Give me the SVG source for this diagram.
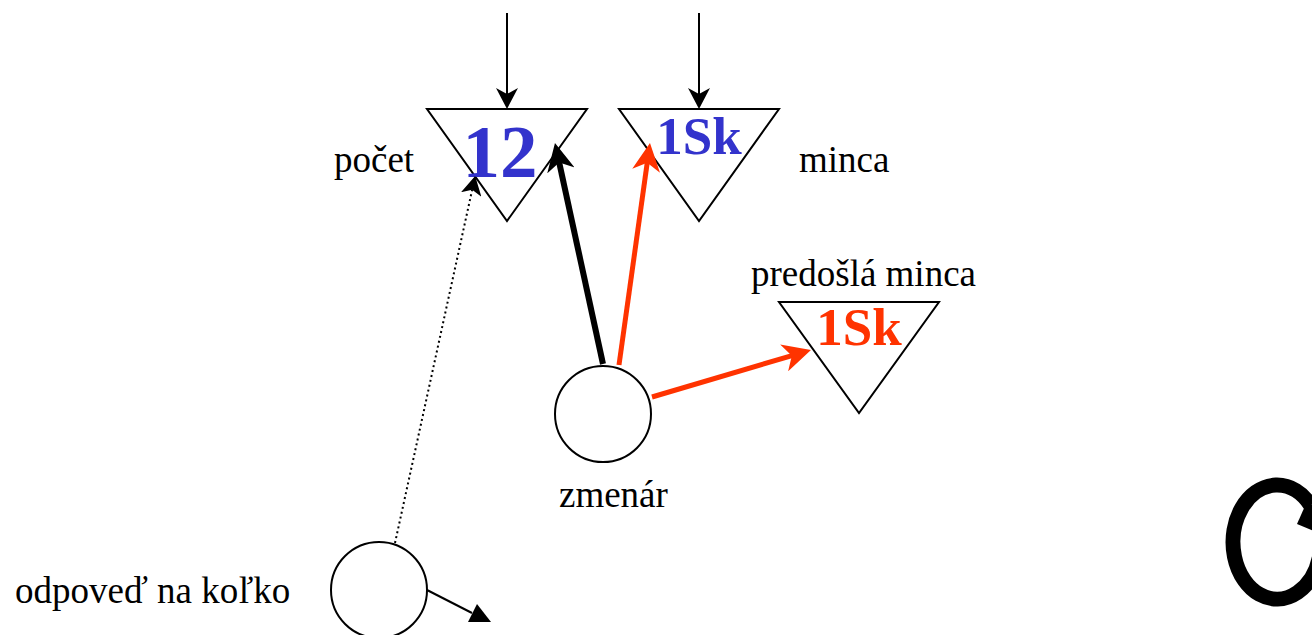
<svg xmlns="http://www.w3.org/2000/svg" width="1312" height="635" viewBox="0 0 1312 635">
<style>
.tri{fill:#fff;stroke:#000;stroke-width:2}
.circ{fill:#fff;stroke:#000;stroke-width:2}
.lbl{font-family:"Liberation Serif","Times New Roman",serif;font-size:37px;fill:#000}
.val{font-family:"Liberation Serif","Times New Roman",serif;font-weight:bold;text-anchor:middle}
.blue{fill:#3333CC}
.red{fill:#FF3300}
.thin{stroke:#000;stroke-width:2;fill:none}
.thick{stroke:#000;stroke-width:6;fill:none}
.redl{stroke:#FF3300;stroke-width:5;fill:none}
.dot{stroke:#000;stroke-width:2;stroke-dasharray:2 3;fill:none}
</style>
<defs>
<marker id="hThin" markerUnits="userSpaceOnUse" viewBox="0 0 21 22" refX="16" refY="11" markerWidth="21" markerHeight="22" orient="auto">
<path d="M0,0 L21,11 L0,22 L6,11 Z" fill="#000"/>
</marker>
<marker id="hBlack" markerUnits="userSpaceOnUse" viewBox="0 0 28 28" refX="18" refY="14" markerWidth="28" markerHeight="28" orient="auto">
<path d="M0,0 L28,14 L0,28 L8,14 Z" fill="#000"/>
</marker>
<marker id="hRed" markerUnits="userSpaceOnUse" viewBox="0 0 28 28" refX="18" refY="14" markerWidth="28" markerHeight="28" orient="auto">
<path d="M0,0 L28,14 L0,28 L8,14 Z" fill="#FF3300"/>
</marker>
<marker id="hDot" markerUnits="userSpaceOnUse" viewBox="0 0 19 21" refX="14" refY="10.5" markerWidth="19" markerHeight="21" orient="auto">
<path d="M0,0 L19,10.5 L0,21 L5,10.5 Z" fill="#000"/>
</marker>
</defs>

<g id="node-pocet">
<polygon class="tri" points="427,109 587,109 507,221"/>
<text class="val blue" x="500" y="177" font-size="75">12</text>
<text class="lbl" x="334" y="172">počet</text>
</g>

<g id="node-minca">
<polygon class="tri" points="619,109 779,109 699,221"/>
<text class="val blue" x="699" y="154" font-size="53">1Sk</text>
<text class="lbl" x="799" y="172">minca</text>
</g>

<g id="node-predosla">
<polygon class="tri" points="779,302 939,302 859,413"/>
<text class="val red" x="859" y="345" font-size="53">1Sk</text>
<text class="lbl" x="751" y="286">predošlá minca</text>
</g>

<g id="node-zmenar">
<circle class="circ" cx="603" cy="414" r="48"/>
<text class="lbl" x="559" y="507">zmenár</text>
</g>

<g id="node-odpoved">
<circle class="circ" cx="379" cy="590" r="48"/>
<text class="lbl" x="15" y="603">odpoveď na koľko</text>
</g>

<g id="connectors">
<line class="thin" x1="507" y1="13" x2="507" y2="104" marker-end="url(#hThin)"/>
<line class="thin" x1="699" y1="13" x2="699" y2="104" marker-end="url(#hThin)"/>
<line class="thick" x1="603" y1="364" x2="557.1" y2="152.8" marker-end="url(#hBlack)"/>
<line class="redl" x1="619" y1="365" x2="648.6" y2="152.9" marker-end="url(#hRed)"/>
<line class="redl" x1="652" y1="397" x2="801.4" y2="352.8" marker-end="url(#hRed)"/>
<line class="dot" x1="395" y1="543" x2="474.1" y2="180.9" marker-end="url(#hDot)"/>
<line class="thin" x1="427" y1="590" x2="472" y2="613"/>
<polygon points="477,604 468,622 491,622" fill="#000"/>
</g>

<g id="cycle-symbol">
<path d="M1320.3,552.4 A44,57 0 1 1 1310.7,505.4" fill="none" stroke="#000" stroke-width="15"/>
<polygon points="1305,506 1297,524 1330,538 1340,498" fill="#000"/>
</g>
</svg>
